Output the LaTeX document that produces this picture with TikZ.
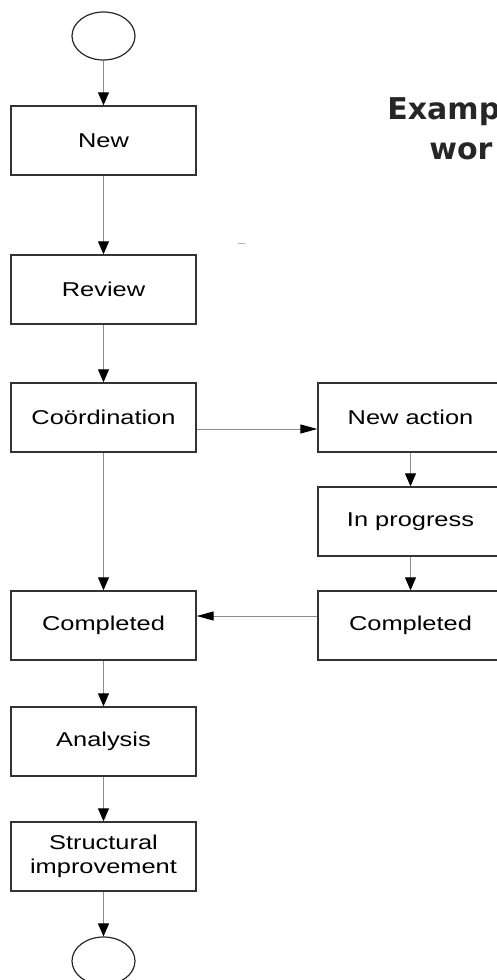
\documentclass[tikz,border=0pt]{standalone}
\usepackage{fontspec}
\setmainfont[FakeStretch=1.27]{Liberation Sans}
\newfontfamily\titlefont{DejaVu Sans}
\usepackage{tikz}
\usetikzlibrary{arrows.meta}
\usetikzlibrary{shapes.geometric}

\tikzset{
  stepbox/.style={draw=black!80, line width=0.7pt, fill=white, minimum width=92.5pt,
    minimum height=34.5pt, inner sep=0pt, align=center, font=\fontsize{10}{12}\selectfont},
  endpoint/.style={draw=black!85, line width=0.6pt, ellipse, minimum width=31.5pt,
    minimum height=24pt, inner sep=0pt},
  flow/.style={draw=black!45, line width=0.5pt, -{Triangle[length=6.5pt,width=5.5pt,color=black]}},
  sideflow/.style={draw=black!45, line width=0.5pt, -{Triangle[length=8.5pt,width=4.5pt,color=black]}}
}

\begin{document}
\begin{tikzpicture}[x=0.5pt, y=-0.5pt]
  \useasboundingbox (0,0) rectangle (497,980);
  \clip (0,0) rectangle (497,980);
  % titulo
  \node[anchor=base west, inner sep=0pt, font=\titlefont\bfseries\fontsize{15}{18}\selectfont, text=black!85] (title1) at (387,119) {Examp};
  \node[anchor=base west, inner sep=0pt, font=\titlefont\bfseries\fontsize{15}{18}\selectfont, text=black!85] (title2) at (429,159) {wor};
  \draw[black!30, line width=0.5pt] (238,243) -- (245,243); % marca
  % columna izquierda
  \node[endpoint] (start) at (103.5,36) {};
  \node[stepbox] (new) at (103.5,140.5) {New};
  \node[stepbox] (review) at (103.5,289.5) {Review};
  \node[stepbox] (coord) at (103.5,417.5) {Coördination};
  \node[stepbox] (doneL) at (103.5,625.5) {Completed};
  \node[stepbox] (analysis) at (103.5,741.5) {Analysis};
  \node[stepbox] (struct) at (103.5,856.5) {Structural\\improvement};
  \node[endpoint] (stop) at (103.5,961) {};
  % columna derecha
  \node[stepbox] (newact) at (410.5,417.5) {New action};
  \node[stepbox] (inprog) at (410.5,521.5) {In progress};
  \node[stepbox] (doneR) at (410.5,625.5) {Completed};
  % flechas
  \draw[flow] (start) -- (new);
  \draw[flow] (new) -- (review);
  \draw[flow] (review) -- (coord);
  \draw[flow] (coord) -- (doneL);
  \draw[sideflow] ([yshift=-5.75pt]coord.east) -- ([yshift=-5.75pt]newact.west);
  \draw[flow] (newact) -- (inprog);
  \draw[flow] (inprog) -- (doneR);
  \draw[sideflow] ([yshift=4.75pt]doneR.west) -- ([yshift=4.75pt]doneL.east);
  \draw[flow] (doneL) -- (analysis);
  \draw[flow] (analysis) -- (struct);
  \draw[flow] (struct) -- (stop);
\end{tikzpicture}
\end{document}
